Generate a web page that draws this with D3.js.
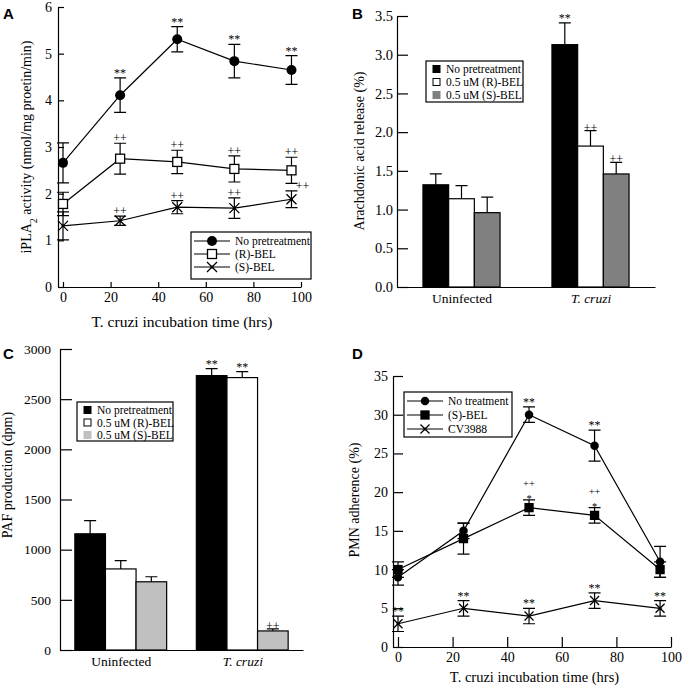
<!DOCTYPE html>
<html>
<head>
<meta charset="utf-8">
<script src="https://cdn.jsdelivr.net/npm/d3@7"></script>
<style>
  body { margin: 0; background: #fff; }
  svg text { font-family: "Liberation Serif", "Times New Roman", serif; fill: #000; }
  .panel-label { font-family: "Liberation Sans", Arial, sans-serif; font-weight: bold; font-size: 15px; }
  .axis path, .axis line { stroke: #000; stroke-width: 1.2; }
</style>
</head>
<body>
<svg id="fig" width="683" height="687"></svg>
<script>
// ---- data ----
const hours = [0, 24, 48, 72, 96];
const hourTicks = [0, 20, 40, 60, 80, 100];

// A: iPLA2 activity
const aNoPre = [2.66, 4.11, 5.31, 4.84, 4.65];
const aNoPreErr = [0.43, 0.37, 0.27, 0.36, 0.31];
const aRBel = [1.78, 2.75, 2.68, 2.53, 2.50];
const aRBelErr = [0.25, 0.33, 0.25, 0.28, 0.28];
const aSBel = [1.31, 1.42, 1.71, 1.69, 1.88];
const aSBelErr = [0.30, 0.10, 0.14, 0.22, 0.18];
const aNoPreMark = ['', '**', '**', '**', '**'];
const aRBelMark = ['', '++', '++', '++', '++'];
const aSBelMark = ['', '++', '++', '++', '++'];
const aNames = ['No pretreatment', '(R)-BEL', '(S)-BEL'];
const aTicks = [0, 1, 2, 3, 4, 5, 6];

// B: arachidonic acid release
const groups = ['Uninfected', 'T. cruzi'];
const bNames = ['No pretreatment', '0.5 uM (R)-BEL', '0.5 uM (S)-BEL'];
const bNoPre = [1.32, 3.13];
const bNoPreErr = [0.14, 0.28];
const bRBel = [1.14, 1.82];
const bRBelErr = [0.17, 0.20];
const bSBel = [0.96, 1.46];
const bSBelErr = [0.20, 0.15];
const bMarks = [['', '**'], ['', '++'], ['', '++']];
const bTicks = [0, 0.5, 1.0, 1.5, 2.0, 2.5, 3.0, 3.5];

// C: PAF production
const cNoPre = [1158, 2735];
const cNoPreErr = [132, 70];
const cRBel = [808, 2715];
const cRBelErr = [82, 60];
const cSBel = [680, 190];
const cSBelErr = [50, 20];
const cMarks = [['', '**'], ['', '**'], ['', '++']];
const cTicks = [0, 500, 1000, 1500, 2000, 2500, 3000];

// D: PMN adherence
const dNames = ['No treatment', '(S)-BEL', 'CV3988'];
const dNoTreat = [9, 15, 30, 26, 11];
const dNoTreatErr = [1, 1, 1, 2, 2];
const dSBel = [10, 14, 18, 17, 10];
const dSBelErr = [1, 2, 1, 1, 1];
const dCV = [3, 5, 4, 6, 5];
const dCVErr = [1, 1, 1, 1, 1];
const dNoTreatMark = ['', '', '**', '**', ''];
const dSBelMark = ['', '', '*', '*', ''];
const dSBelMark2 = ['', '', '++', '++', ''];
const dCVMark = ['**', '**', '**', '**', '**'];
const dTicks = [0, 5, 10, 15, 20, 25, 30, 35];

const svg = d3.select('#fig');

function styleAxis(g, size) {
  g.attr('class', 'axis').attr('font-size', size)
    .attr('font-family', '"Liberation Serif", "Times New Roman", serif');
  g.selectAll('text').attr('fill', '#000');
}

function drawMarker(g, type, x, y, s) {
  if (type === 'circle') {
    g.append('circle').attr('cx', x).attr('cy', y).attr('r', s / 2).attr('fill', '#000');
  } else if (type === 'square' || type === 'fsquare') {
    g.append('rect').attr('x', x - s / 2).attr('y', y - s / 2).attr('width', s).attr('height', s)
      .attr('fill', type === 'square' ? '#fff' : '#000').attr('stroke', '#000').attr('stroke-width', 1.3);
  } else {
    const h = s / 2;
    g.append('path').attr('d', `M${x - h},${y - h}L${x + h},${y + h}M${x - h},${y + h}L${x + h},${y - h}`)
      .attr('stroke', '#000').attr('stroke-width', 1.3).attr('fill', 'none');
    g.append('circle').attr('cx', x).attr('cy', y).attr('r', 1.5).attr('fill', '#000');
  }
}

function yTitle(x, y, parts) {
  const t = svg.append('text').attr('transform', `translate(${x},${y}) rotate(-90)`)
    .attr('text-anchor', 'middle').attr('font-size', 14);
  parts.forEach(p => {
    const ts = t.append('tspan').text(p.t);
    if (p.sub) ts.attr('baseline-shift', 'sub').attr('font-size', 10);
  });
}

function panelLabel(x, y, txt) {
  svg.append('text').attr('class', 'panel-label').attr('x', x).attr('y', y).text(txt);
}

// ---- line panel ----
function linePanel(cfg) {
  const g = svg.append('g');
  const x = cfg.x, y = cfg.y;
  const y0 = y.range()[0];
  const xAx = g.append('g').attr('transform', `translate(0,${y0})`)
    .call(d3.axisBottom(x).tickValues(hourTicks).tickFormat(d3.format('d'))
      .tickSizeInner(-cfg.xTick).tickSizeOuter(0).tickPadding(5));
  styleAxis(xAx, 14);
  const yAx = g.append('g').attr('transform', `translate(${x.range()[0]},0)`)
    .call(d3.axisLeft(y).tickValues(cfg.yTicks).tickFormat(d3.format('d'))
      .tickSizeInner(-cfg.yTick).tickSizeOuter(0).tickPadding(cfg.yPad));
  styleAxis(yAx, 14);

  const line = d3.line().x(d => x(d.h)).y(d => y(d.v));
  cfg.series.forEach(s => {
    const pts = hours.map((h, i) => ({ h, v: s.vals[i], e: s.errs[i] }));
    g.append('path').datum(pts).attr('d', line).attr('fill', 'none')
      .attr('stroke', '#000').attr('stroke-width', 1.2);
    pts.forEach(p => {
      const px = x(p.h), top = y(p.v + p.e), bot = y(p.v - p.e);
      g.append('path').attr('d', `M${px},${top}V${bot}M${px - 6},${top}H${px + 6}M${px - 6},${bot}H${px + 6}`)
        .attr('stroke', '#000').attr('stroke-width', 1.2).attr('fill', 'none');
    });
  });
  cfg.series.forEach(s => {
    hours.forEach((h, i) => drawMarker(g, s.marker, x(h), y(s.vals[i]), s.size));
  });
  // significance marks; a second row sits above the first
  cfg.series.forEach(s => {
    s.marks.forEach((m, row) => {
      m.forEach((txt, i) => {
        if (!txt) return;
        let px = x(hours[i]);
        if (s.shiftLast && i === hours.length - 1) px += 11;
        const base = y(s.vals[i] + s.errs[i]) + (txt === '*' ? 2 : -1) - row * 12;
        g.append('text').attr('x', px).attr('y', base).attr('text-anchor', 'middle')
          .attr('font-size', s.marks.length > 1 ? 10.5 : 12).attr('fill', '#555').text(txt);
      });
    });
  });

  // legend
  const L = cfg.legend;
  g.append('rect').attr('x', L.x).attr('y', L.y).attr('width', L.w).attr('height', L.h)
    .attr('fill', '#fff').attr('stroke', '#000').attr('stroke-width', 1.2);
  cfg.series.forEach((s, i) => {
    const ry = L.y + L.first + i * L.step;
    g.append('line').attr('x1', L.x + 3).attr('x2', L.x + 3 + L.line).attr('y1', ry).attr('y2', ry)
      .attr('stroke', '#000').attr('stroke-width', 1.2);
    drawMarker(g, s.marker, L.x + 3 + L.line / 2, ry, s.size);
    g.append('text').attr('x', L.x + L.line + 8).attr('y', ry).attr('dy', '0.35em')
      .attr('font-size', 11.5).text(s.name);
  });

  svg.append('text').attr('x', (x(0) + x(100)) / 2).attr('y', cfg.titleY).attr('text-anchor', 'middle')
    .attr('font-size', cfg.titleFont).text('T. cruzi incubation time (hrs)');
}

// ---- bar panel ----
function barPanel(cfg) {
  const g = svg.append('g');
  const y = cfg.y, y0 = y.range()[0];
  const gx = d3.scalePoint().domain(groups).range(cfg.xr).padding(0.5);
  const bw = cfg.bw;
  const sub = d3.scaleBand().domain(d3.range(cfg.series.length)).range([-1.5 * bw, 1.5 * bw]);

  cfg.series.forEach((s, k) => {
    groups.forEach((grp, i) => {
      const bx = gx(grp) + sub(k), top = y(s.vals[i]), et = y(s.vals[i] + s.errs[i]);
      const cx = bx + bw / 2;
      g.append('path').attr('d', `M${cx},${top}V${et}M${cx - 6},${et}H${cx + 6}`)
        .attr('stroke', '#000').attr('stroke-width', 1.2);
      g.append('rect').attr('x', bx).attr('y', top).attr('width', bw).attr('height', y0 - top)
        .attr('fill', s.color).attr('stroke', '#000').attr('stroke-width', 1.2);
      const txt = cfg.marks[k][i];
      if (txt) {
        g.append('text').attr('x', cx).attr('y', et + (txt === '++' ? 1 : -1)).attr('text-anchor', 'middle')
          .attr('font-size', 12).attr('fill', txt === '**' ? cfg.starColor : '#222').text(txt);
      }
    });
  });

  const yAx = g.append('g').attr('transform', `translate(${cfg.xr[0]},0)`)
    .call(d3.axisLeft(y).tickValues(cfg.yTicks).tickFormat(cfg.fmt).tickSizeInner(-cfg.yTick)
      .tickSizeOuter(0).tickPadding(cfg.yPad));
  styleAxis(yAx, cfg.tickFont);
  const xAx = g.append('g').attr('transform', `translate(0,${y0})`)
    .call(d3.axisBottom(gx).tickSize(0).tickPadding(6));
  styleAxis(xAx, 13.5);
  xAx.selectAll('.tick line').remove();
  xAx.selectAll('.tick text').attr('font-style', d => d === 'T. cruzi' ? 'italic' : null);

  const L = cfg.legend;
  g.append('rect').attr('x', L.x).attr('y', L.y).attr('width', L.w).attr('height', L.h)
    .attr('fill', '#fff').attr('stroke', '#000').attr('stroke-width', 1.2);
  cfg.series.forEach((s, i) => {
    const ry = L.y + L.first + i * L.step;
    g.append('rect').attr('x', L.x + 7).attr('y', ry - 3.5).attr('width', 7).attr('height', 7)
      .attr('fill', s.color).attr('stroke', s.color === '#fff' ? '#000' : s.color).attr('stroke-width', 1);
    g.append('text').attr('x', L.x + 20).attr('y', ry).attr('dy', '0.35em')
      .attr('font-size', 11.5).text(s.name);
  });
}

// Panel A
panelLabel(3, 19, 'A');
linePanel({
  x: d3.scaleLinear().domain([-2.1, 100]).range([58, 301]),
  y: d3.scaleLinear().domain([0, 6]).range([287, 7]),
  yTicks: aTicks, xTick: 5, yTick: 6, yPad: 6,
  series: [
    { name: aNames[0], vals: aNoPre, errs: aNoPreErr, marks: [aNoPreMark], marker: 'circle', size: 10 },
    { name: aNames[1], vals: aRBel, errs: aRBelErr, marks: [aRBelMark], marker: 'square', size: 9 },
    { name: aNames[2], vals: aSBel, errs: aSBelErr, marks: [aSBelMark], marker: 'x', size: 10, shiftLast: true }
  ],
  legend: { x: 191, y: 232, w: 120, h: 47, first: 9, step: 13, line: 36 },
  titleY: 327, titleFont: 15.5
});
yTitle(31, 147, [{ t: 'iPLA' }, { t: '2', sub: true }, { t: ' activity (nmol/mg proetin/min)' }]);

// Panel B
panelLabel(352, 19, 'B');
barPanel({
  y: d3.scaleLinear().domain([0, 3.5]).range([287, 16]),
  xr: [397, 655], bw: 25.7, yTicks: bTicks, fmt: d3.format('.1f'), yTick: 11, yPad: 4, tickFont: 14.5,
  series: [
    { name: bNames[0], vals: bNoPre, errs: bNoPreErr, color: '#000' },
    { name: bNames[1], vals: bRBel, errs: bRBelErr, color: '#fff' },
    { name: bNames[2], vals: bSBel, errs: bSBelErr, color: '#808080' }
  ],
  marks: bMarks, starColor: '#999',
  legend: { x: 426, y: 61, w: 97, h: 41, first: 8, step: 13 }
});
yTitle(364, 151, [{ t: 'Arachdonic acid release (%)' }]);

// Panel C
panelLabel(3, 359, 'C');
barPanel({
  y: d3.scaleLinear().domain([0, 3000]).range([650, 349]),
  xr: [60, 303], bw: 30.6, yTicks: cTicks, fmt: d3.format('d'), yTick: 12, yPad: 9, tickFont: 13.5,
  series: [
    { name: bNames[0], vals: cNoPre, errs: cNoPreErr, color: '#000' },
    { name: bNames[1], vals: cRBel, errs: cRBelErr, color: '#fff' },
    { name: bNames[2], vals: cSBel, errs: cSBelErr, color: '#c0c0c0' }
  ],
  marks: cMarks, starColor: '#777',
  legend: { x: 77, y: 402, w: 96, h: 39, first: 8, step: 12.5 }
});
yTitle(12, 475, [{ t: 'PAF production (dpm)' }]);

// Panel D
panelLabel(352, 359, 'D');
linePanel({
  x: d3.scaleLinear().domain([-1.83, 100]).range([393, 671]),
  y: d3.scaleLinear().domain([0, 35]).range([647, 376]),
  yTicks: dTicks, xTick: 10, yTick: 10, yPad: 5,
  series: [
    { name: dNames[0], vals: dNoTreat, errs: dNoTreatErr, marks: [dNoTreatMark], marker: 'circle', size: 8.5 },
    { name: dNames[1], vals: dSBel, errs: dSBelErr, marks: [dSBelMark, dSBelMark2], marker: 'fsquare', size: 8 },
    { name: dNames[2], vals: dCV, errs: dCVErr, marks: [dCVMark], marker: 'x', size: 9 }
  ],
  legend: { x: 404, y: 392, w: 108, h: 45, first: 9, step: 14, line: 36 },
  titleY: 682, titleFont: 14.5
});
yTitle(359, 500, [{ t: 'PMN adherence (%)' }]);
</script>
</body>
</html>
